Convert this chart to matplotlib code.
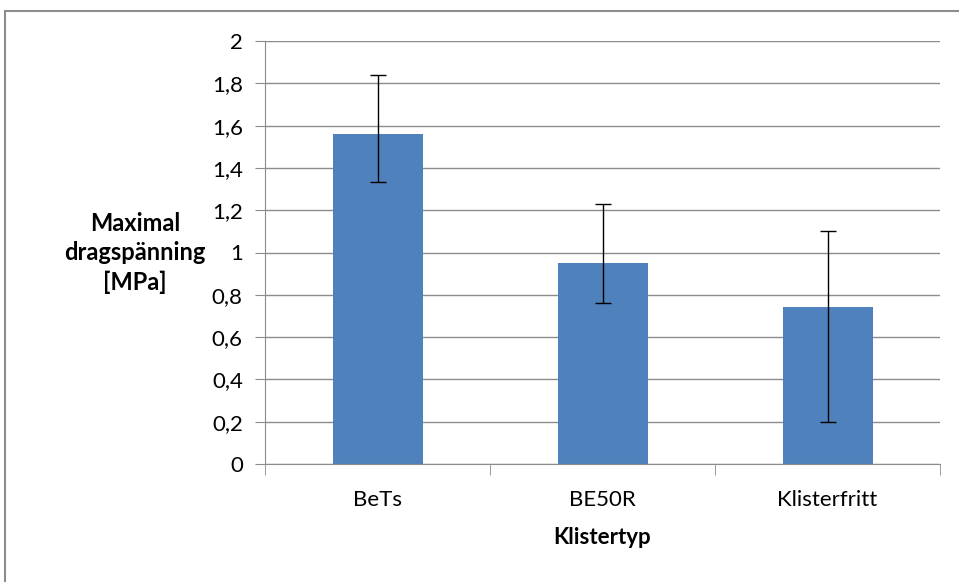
import numpy as np
import matplotlib.pyplot as plt
from matplotlib.patches import Rectangle

# data
categories = ["BeTs", "BE50R", "Klisterfritt"]
means = [1.56, 0.95, 0.74]
err_upper = [1.84, 1.23, 1.10]
err_lower = [1.335, 0.76, 0.20]
yticks = [0, 0.2, 0.4, 0.6, 0.8, 1.0, 1.2, 1.4, 1.6, 1.8, 2.0]

plt.rcParams['font.family'] = ['Lato', 'DejaVu Sans']

fig = plt.figure(figsize=(9.59, 5.82), dpi=100)
ax = fig.add_axes([265/959, 1 - 464/582, 675/959, 423/582])

# outer chart frame
fig.patches.append(Rectangle((5/959, -0.1), 1.2, (582 - 11)/582 + 0.1,
                             transform=fig.transFigure, fill=False,
                             edgecolor='#8c8c8c', lw=1.5))

x = np.arange(len(categories))
yerr = [np.array(means) - np.array(err_lower), np.array(err_upper) - np.array(means)]
ax.bar(x, means, width=0.4, color='#4F81BD', zorder=2)
ax.errorbar(x, means, yerr=yerr, fmt='none', ecolor='black', elinewidth=1,
            capsize=6, capthick=1, zorder=3)

ax.set_xlim(-0.5, 2.5)
ax.set_ylim(0, 2)
ax.set_yticks(yticks)
ax.set_yticklabels([('%g' % t).replace('.', ',') for t in yticks])
ax.set_xticks(x)
ax.set_xticklabels(categories)
ax.set_xticks([-0.5, 0.5, 1.5, 2.5], minor=True)

ax.yaxis.grid(True, color='#8c8c8c', lw=1)
ax.set_axisbelow(True)
for s in ['top', 'right']:
    ax.spines[s].set_visible(False)
for s in ['left', 'bottom']:
    ax.spines[s].set_color('#8c8c8c')
ax.tick_params(axis='y', length=7, color='#8c8c8c', labelsize=16, pad=9)
ax.tick_params(axis='x', which='major', length=0, labelsize=16, pad=19)
ax.tick_params(axis='x', which='minor', length=8, color='#8c8c8c')

ax.set_xlabel("Klistertyp", fontsize=16, fontweight='bold', labelpad=12)
fig.text(135/959, 1 - 253/582, "Maximal\ndragspänning\n[MPa]", ha='center', va='center',
         fontsize=17, fontweight='bold', linespacing=1.35)

plt.savefig("out.png", dpi=100)
